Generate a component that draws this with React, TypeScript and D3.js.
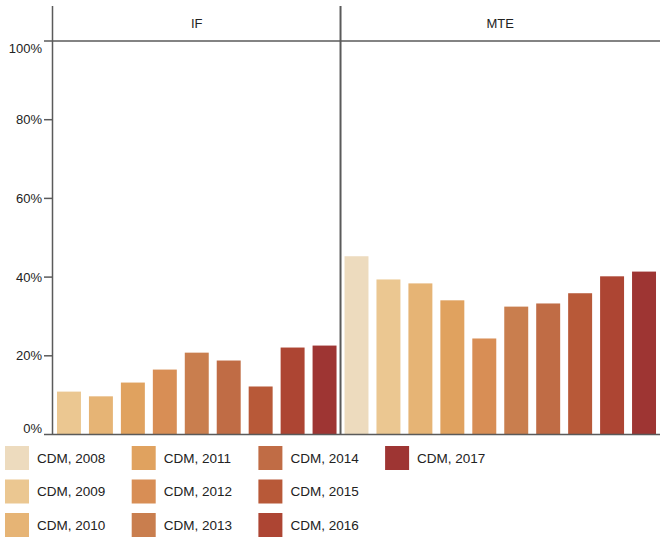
import React from "react";
import * as d3 from "d3";

const panels = ["IF", "MTE"];
const years = ["2008", "2009", "2010", "2011", "2012", "2013", "2014", "2015", "2016", "2017"];
const colors = ["#EDDBBE", "#EBC791", "#E6B475", "#E0A25F", "#D88E55", "#C97E4E", "#C06C45", "#B85938", "#AD4533", "#9E3533"];
const ifYears = ["2009", "2010", "2011", "2012", "2013", "2014", "2015", "2016", "2017"];
const ifValues = [10.9, 9.7, 13.2, 16.5, 20.8, 18.8, 12.2, 22.1, 22.6];
const mteYears = ["2008", "2009", "2010", "2011", "2012", "2013", "2014", "2015", "2016", "2017"];
const mteValues = [45.3, 39.4, 38.4, 34.1, 24.4, 32.5, 33.3, 35.9, 40.2, 41.4];
const yTicks = [0, 20, 40, 60, 80, 100];

export default function App() {
  const W = 660, H = 537;
  const left = 53, right = 660, top = 41, bottom = 434.5, stripTop = 6;
  const y = d3.scaleLinear().domain([0, 100]).range([bottom, top]);
  const nTotal = ifYears.length + mteYears.length;
  const step = (right - left) / nTotal;
  const ifRight = left + step * ifYears.length;
  const panelData = [
    { name: panels[0], yrs: ifYears, vals: ifValues, x0: left, x1: ifRight },
    { name: panels[1], yrs: mteYears, vals: mteValues, x0: ifRight, x1: right },
  ];
  const color = d3.scaleOrdinal<string, string>().domain(years).range(colors);
  const font = "'Liberation Sans', Arial, sans-serif";
  const axisColor = "#5a5a5a";

  return (
    <svg width={W} height={H} style={{ position: "absolute", left: 0, top: 0 }} fontFamily={font}>
      {panelData.map((p) => {
        const x = d3.scaleBand<string>().domain(p.yrs).range([p.x0, p.x1]).paddingInner(0.25).paddingOuter(0.125);
        return (
          <g key={p.name}>
            {p.yrs.map((yr, i) => (
              <rect key={yr} x={x(yr)} y={y(p.vals[i])} width={x.bandwidth()} height={bottom - y(p.vals[i])} fill={color(yr)} />
            ))}
            <text x={(p.x0 + p.x1) / 2} y={(stripTop + top) / 2} dy="0.35em" textAnchor="middle" fontSize={13} fill="#222">{p.name}</text>
          </g>
        );
      })}
      {/* strip bottom line */}
      <line x1={left} x2={right} y1={top} y2={top} stroke={axisColor} strokeWidth={1.5} />
      {/* baseline */}
      <line x1={left} x2={right} y1={bottom} y2={bottom} stroke={axisColor} strokeWidth={1.5} />
      {/* y axis */}
      <line x1={left - 0.5} x2={left - 0.5} y1={stripTop} y2={bottom} stroke={axisColor} strokeWidth={1.5} />
      {/* divider */}
      <line x1={ifRight} x2={ifRight} y1={stripTop} y2={bottom} stroke={axisColor} strokeWidth={2} />
      {yTicks.map((t) => {
        const off = t === 100 ? 7.5 : t === 0 ? -6.5 : 0;
        return (
          <g key={t}>
            <line x1={left - 9} x2={left} y1={y(t)} y2={y(t)} stroke={axisColor} strokeWidth={1.5} />
            <text x={left - 11} y={y(t) + off} dy="0.35em" textAnchor="end" fontSize={13} fill="#222">{t + "%"}</text>
          </g>
        );
      })}
      {/* legend */}
      {years.map((yr, i) => {
        const col = Math.floor(i / 3);
        const row = i % 3;
        const lx = 5 + col * 126.7;
        const ly = 446 + row * 33.5;
        return (
          <g key={yr}>
            <rect x={lx} y={ly} width={24} height={24} fill={color(yr)} />
            <text x={lx + 32} y={ly + 12} dy="0.35em" fontSize={13.5} fill="#222">{"CDM, " + yr}</text>
          </g>
        );
      })}
    </svg>
  );
}
